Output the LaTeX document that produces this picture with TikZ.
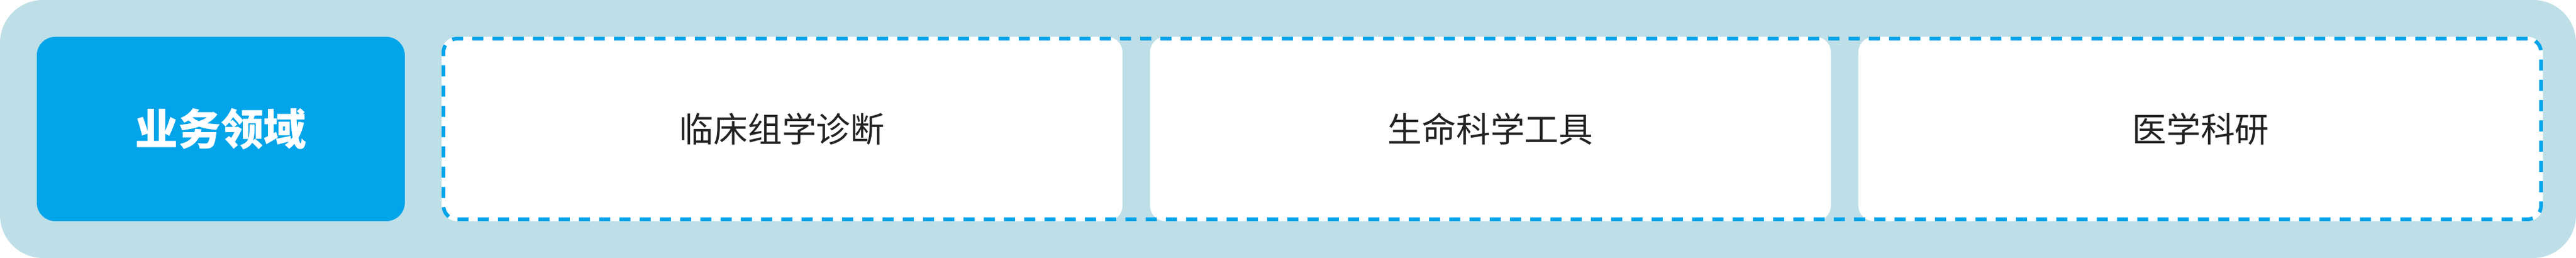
\documentclass[tikz,border=0pt]{standalone}
\usepackage{fontspec}
\newfontfamily\cjk{Noto Sans CJK SC}
\definecolor{bgblue}{HTML}{BEDFE7}
\definecolor{mainblue}{HTML}{02A4EA}
\definecolor{textgray}{HTML}{222222}

\begin{document}
\begin{tikzpicture}[
  every node/.style={inner sep=0pt, outer sep=0pt},
  domainbox/.style={fill=mainblue, rounded corners=0.3cm, minimum width=6cm, minimum height=3cm,
    text=white, font=\cjk\bfseries\fontsize{19.9pt}{24pt}\selectfont},
  areabox/.style={fill=white, rounded corners=0.25cm, minimum height=3cm,
    text=textgray, font=\cjk\fontsize{15.9pt}{19pt}\selectfont},
  dashframe/.style={draw=mainblue, line width=0.06cm, dash pattern=on 0.18cm off 0.15cm,
    rounded corners=0.22cm}
]

% Canvas
\useasboundingbox (0,0) rectangle (42,4.2);
\node[fill=bgblue, rounded corners=0.7cm, minimum width=42cm, minimum height=4.2cm] (bg) at (21,2.1) {};

% Left label
\node[domainbox] (domain) at (3.6,2.1) {业务领域};

% Three areas
\node[areabox, minimum width=11.1cm] (clinic) at (12.75,2.1) {临床组学诊断};
\node[areabox, minimum width=11.1cm] (life) at (24.30,2.1) {生命科学工具};
\node[areabox, minimum width=11.16cm] (research) at (35.88,2.1) {医学科研};

% Dashed frame round the areas
\node[dashframe, minimum width=34.2cm, minimum height=2.94cm] (frame) at (24.33,2.1) {};

\end{tikzpicture}
\end{document}
